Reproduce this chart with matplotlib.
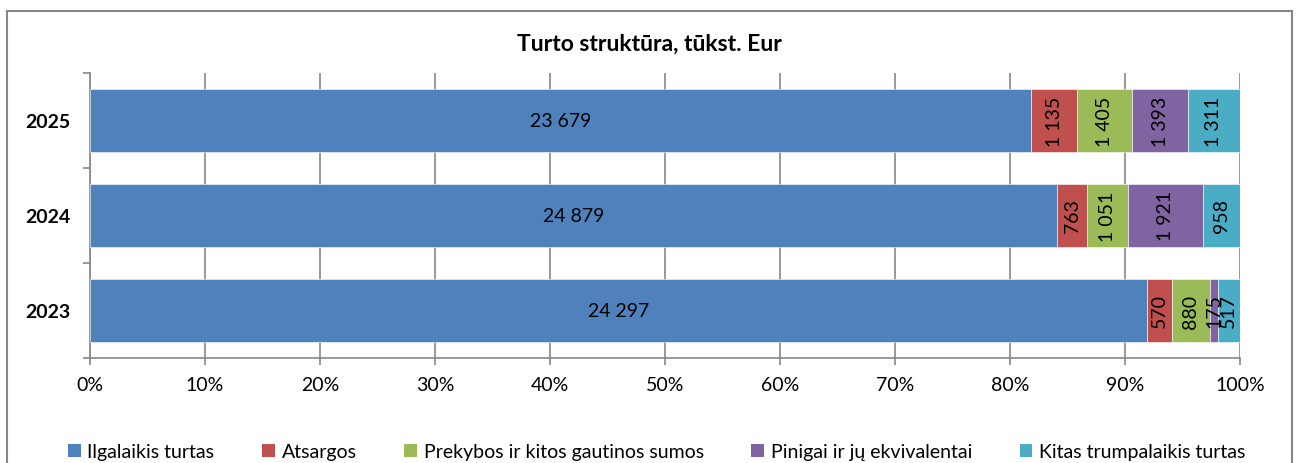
import matplotlib
matplotlib.use("Agg")
import matplotlib.pyplot as plt
import numpy as np
from matplotlib.lines import Line2D
from matplotlib.patches import Patch

# --- data (tūkst. Eur) --------------------------------------------------------------------------- #
YEARS = ["2023", "2024", "2025"]
SERIES = ["Ilgalaikis turtas", "Atsargos", "Prekybos ir kitos gautinos sumos",
          "Pinigai ir jų ekvivalentai", "Kitas trumpalaikis turtas"]
ILGALAIKIS = [24297, 24879, 23679]
ATSARGOS = [570, 763, 1135]
PREKYBOS = [880, 1051, 1405]
PINIGAI = [175, 1921, 1393]
KITAS = [517, 958, 1311]
COLORS = ["#4F81BD", "#C0504D", "#9BBB59", "#8064A2", "#4BACC6"]
TITLE = "Turto struktūra, tūkst. Eur"

plt.rcParams["font.family"] = ["Lato", "DejaVu Sans"]
FS = 14

values = np.array([ILGALAIKIS, ATSARGOS, PREKYBOS, PINIGAI, KITAS], dtype=float)
shares = values / values.sum(axis=0) * 100.0

W, H = 1298, 464
fig = plt.figure(figsize=(W / 100, H / 100), dpi=100)
ax = fig.add_axes([90 / W, 1 - 359 / H, (1240 - 90) / W, (359 - 74) / H])

y = np.arange(len(YEARS))
left = np.zeros(len(YEARS))
for i, name in enumerate(SERIES):
    ax.barh(y, shares[i], left=left, height=0.66, color=COLORS[i],
            edgecolor="white", linewidth=0.4, label=name, zorder=3)
    for j in range(len(YEARS)):
        cx = left[j] + shares[i, j] / 2
        txt = f"{int(values[i, j]):,}".replace(",", " ")
        ax.text(cx, y[j], txt, ha="center", va="center", fontsize=FS,
                rotation=0 if i == 0 else 90, zorder=4)
    left += shares[i]

ax.set_xlim(0, 100)
ax.set_ylim(-0.5, 2.5)
ax.set_xticks(np.arange(0, 101, 10))
ax.set_xticklabels([f"{v}%" for v in range(0, 101, 10)], fontsize=FS)
ax.set_yticks(y)
ax.set_yticklabels(YEARS, fontsize=FS, fontweight="bold")
ax.set_yticks([-0.5, 0.5, 1.5, 2.5], minor=True)
ax.tick_params(axis="y", which="major", length=0, pad=14)
ax.tick_params(axis="y", which="minor", length=5, color="#868686", width=1.2)
ax.tick_params(axis="x", length=5, color="#868686", width=1.2, pad=8)
ax.grid(axis="x", color="#868686", lw=1.2, zorder=0)
for s in ("top", "right"):
    ax.spines[s].set_visible(False)
for s in ("left", "bottom"):
    ax.spines[s].set_color("#868686")
    ax.spines[s].set_linewidth(1.2)

fig.text(0.5, 1 - 44 / H, TITLE, ha="center", va="center", fontsize=16.5, fontweight="bold")

handles = [Patch(facecolor=c, edgecolor="none") for c in COLORS]
fig.legend(handles, SERIES, loc="center", bbox_to_anchor=(0.506, 1 - 453 / H), ncol=5,
           frameon=False, fontsize=FS, handlelength=0.65, handleheight=0.65,
           handletextpad=0.35, columnspacing=2.45)

# outer chart frame (bottom edge falls outside the image)
bx0, bx1, by1 = 7 / W, 1292 / W, 1 - 12 / H
for xs, ys in (([bx0, bx0], [0, by1]), ([bx0, bx1], [by1, by1]), ([bx1, bx1], [by1, 0])):
    fig.add_artist(Line2D(xs, ys, transform=fig.transFigure, color="#868686", lw=1.5))

fig.savefig("out.png", dpi=100)
